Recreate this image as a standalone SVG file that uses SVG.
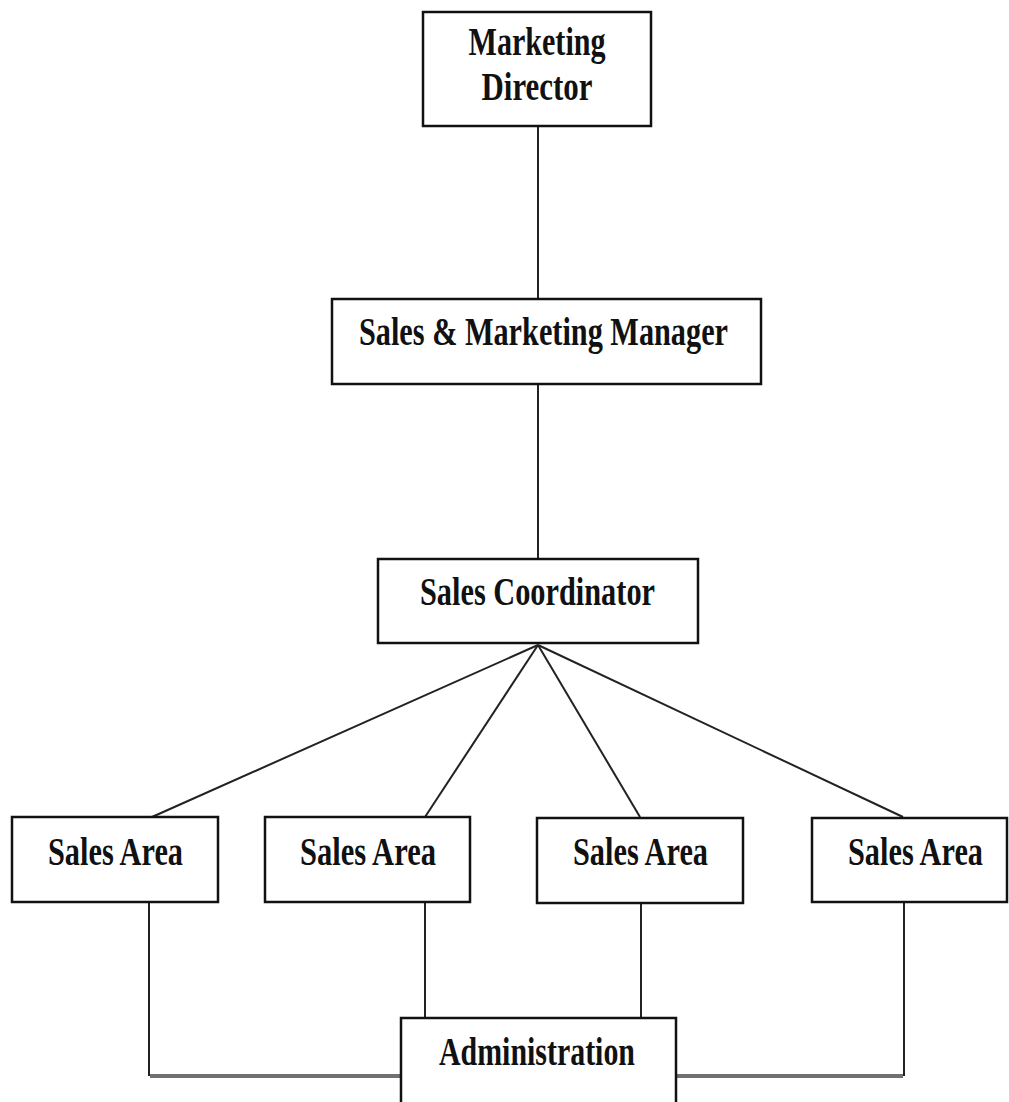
<svg xmlns="http://www.w3.org/2000/svg" width="1009" height="1102" viewBox="0 0 1009 1102">
<style>
.box{fill:#fff;stroke:#111;stroke-width:2.5}
.t{font-family:"Liberation Serif","Times New Roman",serif;font-weight:bold;font-size:40px;fill:#111;text-anchor:middle}
.c{fill:none;stroke:#222;stroke-width:2}
.b{fill:none;stroke:#707070;stroke-width:4}
</style>
<rect width="1009" height="1102" fill="#fff"/>
<g id="connectors">
<line class="c" x1="538" y1="126" x2="538" y2="299"/>
<line class="c" x1="538" y1="384" x2="538" y2="559"/>
<line class="c" x1="538" y1="645" x2="152" y2="817"/>
<line class="c" x1="538" y1="645" x2="425" y2="817"/>
<line class="c" x1="538" y1="645" x2="640" y2="817"/>
<line class="c" x1="538" y1="645" x2="903" y2="817"/>
<line class="c" x1="425" y1="902" x2="425" y2="1018"/>
<line class="c" x1="641" y1="902" x2="641" y2="1018"/>
<line class="b" x1="150" y1="1076" x2="401" y2="1076"/>
<line class="b" x1="676" y1="1076" x2="903" y2="1076"/>
<line class="c" x1="149" y1="902" x2="149" y2="1076"/>
<line class="c" x1="904" y1="902" x2="904" y2="1076"/>
</g>
<g id="marketing-director">
<rect class="box" x="423" y="12" width="228" height="114"/>
<text class="t" x="537" y="55" textLength="137" lengthAdjust="spacingAndGlyphs">Marketing</text>
<text class="t" x="537" y="100" textLength="111" lengthAdjust="spacingAndGlyphs">Director</text>
</g>
<g id="sales-marketing-manager">
<rect class="box" x="332" y="299" width="429" height="85"/>
<text class="t" x="543.5" y="345" textLength="369" lengthAdjust="spacingAndGlyphs">Sales &amp; Marketing Manager</text>
</g>
<g id="sales-coordinator">
<rect class="box" x="378" y="559" width="320" height="84"/>
<text class="t" x="537.5" y="605" textLength="235" lengthAdjust="spacingAndGlyphs">Sales Coordinator</text>
</g>
<g id="sales-area-1">
<rect class="box" x="12" y="817" width="206" height="85"/>
<text class="t" x="115.5" y="865" textLength="135" lengthAdjust="spacingAndGlyphs">Sales Area</text>
</g>
<g id="sales-area-2">
<rect class="box" x="265" y="817" width="205" height="85"/>
<text class="t" x="368" y="865" textLength="136" lengthAdjust="spacingAndGlyphs">Sales Area</text>
</g>
<g id="sales-area-3">
<rect class="box" x="537" y="818" width="206" height="85"/>
<text class="t" x="640.5" y="865" textLength="135" lengthAdjust="spacingAndGlyphs">Sales Area</text>
</g>
<g id="sales-area-4">
<rect class="box" x="812" y="818" width="195" height="84"/>
<text class="t" transform="translate(915.5,865) scale(0.75,1)" x="0" y="0" textLength="180" lengthAdjust="spacingAndGlyphs">Sales Area</text>
</g>
<g id="administration">
<rect class="box" x="401" y="1018" width="275" height="100"/>
<text class="t" x="537" y="1065" textLength="196" lengthAdjust="spacingAndGlyphs">Administration</text>
</g>
</svg>
